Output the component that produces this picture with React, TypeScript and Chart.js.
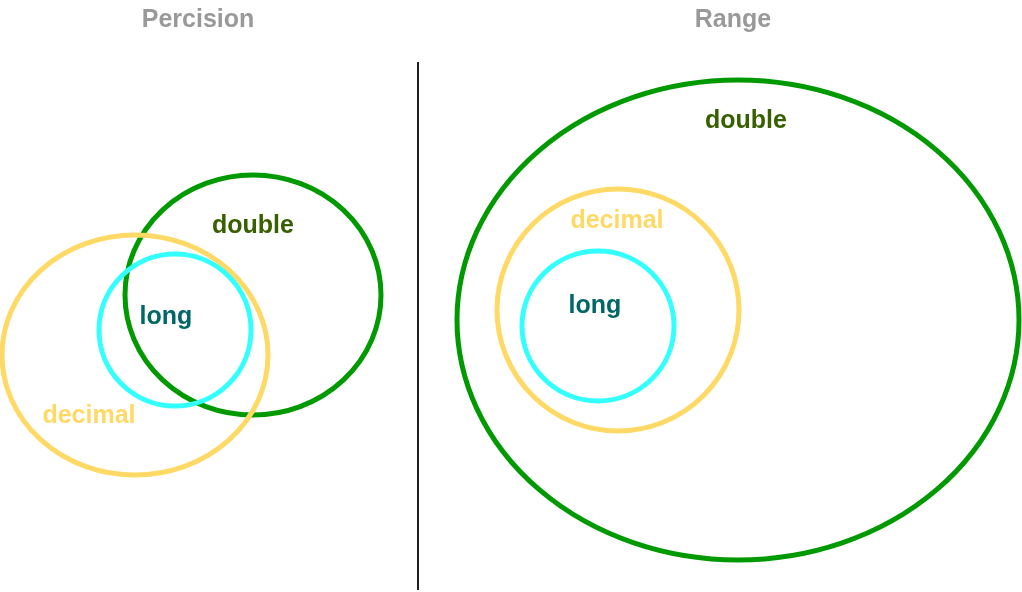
import React, { useEffect, useRef } from "react";
import Chart from "chart.js/auto";

// ellipses: [panel label, centre x, centre y, radius x, radius y]
const ringNames = ["double", "decimal", "long", "double", "decimal", "long"];
const ringCx = [253, 135, 175, 738, 618, 598];
const ringCy = [295, 355, 330, 320, 310, 326];
const ringRx = [128, 133, 76, 281, 121, 76];
const ringRy = [120, 120, 76, 240, 121, 75];
const ringColors = ["#009a00", "#ffd966", "#33ffff", "#009a00", "#ffd966", "#33ffff"];

const labelX = [253, 89, 166, 746, 617, 595];
const labelY = [226, 416, 317, 121, 221, 306];
const labelColors = ["#386000", "#ffd966", "#006666", "#386000", "#ffd966", "#006666"];

const titles = ["Percision", "Range"];
const titleX = [198, 733];
const titleY = [20, 20];

const dividerX = [418, 418];
const dividerY = [62, 590];

const vennPlugin = {
  id: "venn",
  afterDatasetsDraw(chart: any) {
    const { ctx, scales } = chart;
    const x = scales.x;
    const y = scales.y;
    ctx.save();
    ctx.lineWidth = 5;
    ringNames.forEach((_, i) => {
      const cx = x.getPixelForValue(ringCx[i]);
      const cy = y.getPixelForValue(ringCy[i]);
      const rx = Math.abs(x.getPixelForValue(ringCx[i] + ringRx[i]) - cx);
      const ry = Math.abs(y.getPixelForValue(ringCy[i] + ringRy[i]) - cy);
      ctx.strokeStyle = ringColors[i];
      ctx.beginPath();
      ctx.ellipse(cx, cy, rx, ry, 0, 0, Math.PI * 2);
      ctx.stroke();
    });
    ctx.textAlign = "center";
    ctx.textBaseline = "middle";
    ctx.font = "bold 25px 'Liberation Sans', Arial, sans-serif";
    ringNames.forEach((name, i) => {
      ctx.fillStyle = labelColors[i];
      ctx.fillText(name, x.getPixelForValue(labelX[i]), y.getPixelForValue(labelY[i]));
    });
    ctx.fillStyle = "#999999";
    titles.forEach((t, i) => {
      ctx.fillText(t, x.getPixelForValue(titleX[i]), y.getPixelForValue(titleY[i]));
    });
    ctx.restore();
  },
};

const App = () => {
  const canvasRef = useRef<HTMLCanvasElement>(null);

  useEffect(() => {
    if (!canvasRef.current) return;
    const chart = new Chart(canvasRef.current, {
      type: "scatter",
      data: {
        datasets: [
          {
            data: dividerX.map((v, i) => ({ x: v, y: dividerY[i] })),
            showLine: true,
            borderColor: "#000000",
            borderWidth: 1,
            pointRadius: 0,
          },
        ],
      },
      options: {
        animation: false,
        responsive: false,
        layout: { padding: 0 },
        plugins: { legend: { display: false }, tooltip: { enabled: false } },
        scales: {
          x: { type: "linear", min: 0, max: 1022, display: false },
          y: { type: "linear", min: 0, max: 592, reverse: true, display: false },
        },
      },
      plugins: [vennPlugin],
    });
    return () => chart.destroy();
  }, []);

  return (
    <div style={{ position: "fixed", left: 0, top: 0, width: 1022, height: 592, background: "#fff" }}>
      <canvas ref={canvasRef} width={1022} height={592} />
    </div>
  );
};

export default App;
